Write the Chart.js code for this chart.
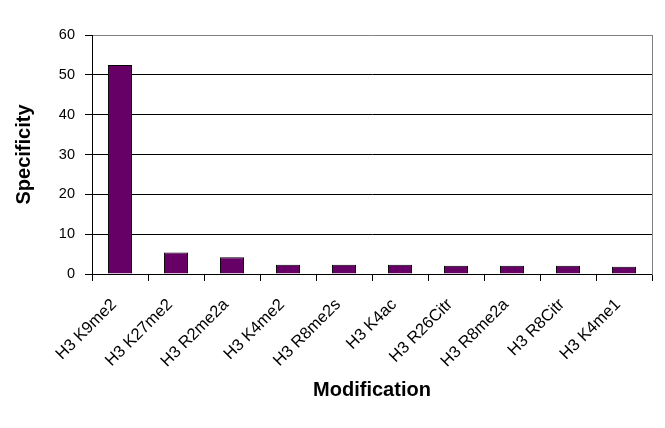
<!DOCTYPE html>
<html>
<head>
<meta charset="utf-8">
<script src="https://cdn.jsdelivr.net/npm/chart.js@4/dist/chart.umd.min.js"></script>
<style>
  html, body { margin: 0; padding: 0; background: #fff; }
  #wrap { width: 665px; height: 428px; }
</style>
</head>
<body>
<div id="wrap"><canvas id="chart" width="665" height="428"></canvas></div>
<script>
// values
const modifications = ['H3 K9me2', 'H3 K27me2', 'H3 R2me2a', 'H3 K4me2', 'H3 R8me2s',
                       'H3 K4ac', 'H3 R26Citr', 'H3 R8me2a', 'H3 R8Citr', 'H3 K4me1'];
const specificity = [52.5, 5.4, 4.2, 2.3, 2.3, 2.3, 2.1, 2.1, 2.1, 1.8];
const yTicks = [0, 10, 20, 30, 40, 50, 60];

const FONT = '"Liberation Sans", Arial, sans-serif';

new Chart(document.getElementById('chart'), {
  type: 'bar',
  data: {
    labels: modifications,
    datasets: [{
      data: specificity,
      backgroundColor: '#660066',
      borderColor: '#000',
      borderWidth: 1,
      barPercentage: 0.43,
      categoryPercentage: 1
    }]
  },
  options: {
    responsive: false,
    animation: false,
    devicePixelRatio: 1,
    layout: { padding: { top: 35, right: 0, bottom: 0, left: 0 } },
    plugins: { legend: { display: false }, tooltip: { enabled: false } },
    scales: {
      x: {
        grid: { drawOnChartArea: false, tickLength: 7, color: '#000', tickColor: '#000' },
        border: { color: '#000', width: 1 },
        ticks: {
          autoSkip: false, maxRotation: 45, minRotation: 45, padding: 14, labelOffset: -6,
          color: '#000', font: { family: FONT, size: 16.5 }
        },
        title: {
          display: true, text: 'Modification', color: '#000',
          font: { family: FONT, size: 20, weight: 'bold' },
          padding: { top: 0, bottom: 26 }
        },
        afterFit: s => { s.height = 154; }
      },
      y: {
        min: 0, max: 60,
        afterBuildTicks: s => { s.ticks = yTicks.map(v => ({ value: v })); },
        grid: {
          color: c => c.tick && c.tick.value === 60 ? '#808080' : '#000',
          tickColor: '#000', tickLength: 7, lineWidth: 1
        },
        border: { color: '#000', width: 1 },
        ticks: { padding: 10, color: '#000', font: { family: FONT, size: 14.5 } },
        title: {
          display: true, text: 'Specificity', color: '#000',
          font: { family: FONT, size: 20, weight: 'bold' },
          padding: { top: 12, bottom: 0 }
        },
        afterFit: s => { s.width = 92; }
      },
      right: {
        position: 'right', min: 0, max: 60,
        grid: { drawOnChartArea: false, drawTicks: false },
        border: { color: '#808080', width: 1 },
        ticks: { display: false },
        afterFit: s => { s.width = 13; }
      }
    }
  }
});
</script>
</body>
</html>
